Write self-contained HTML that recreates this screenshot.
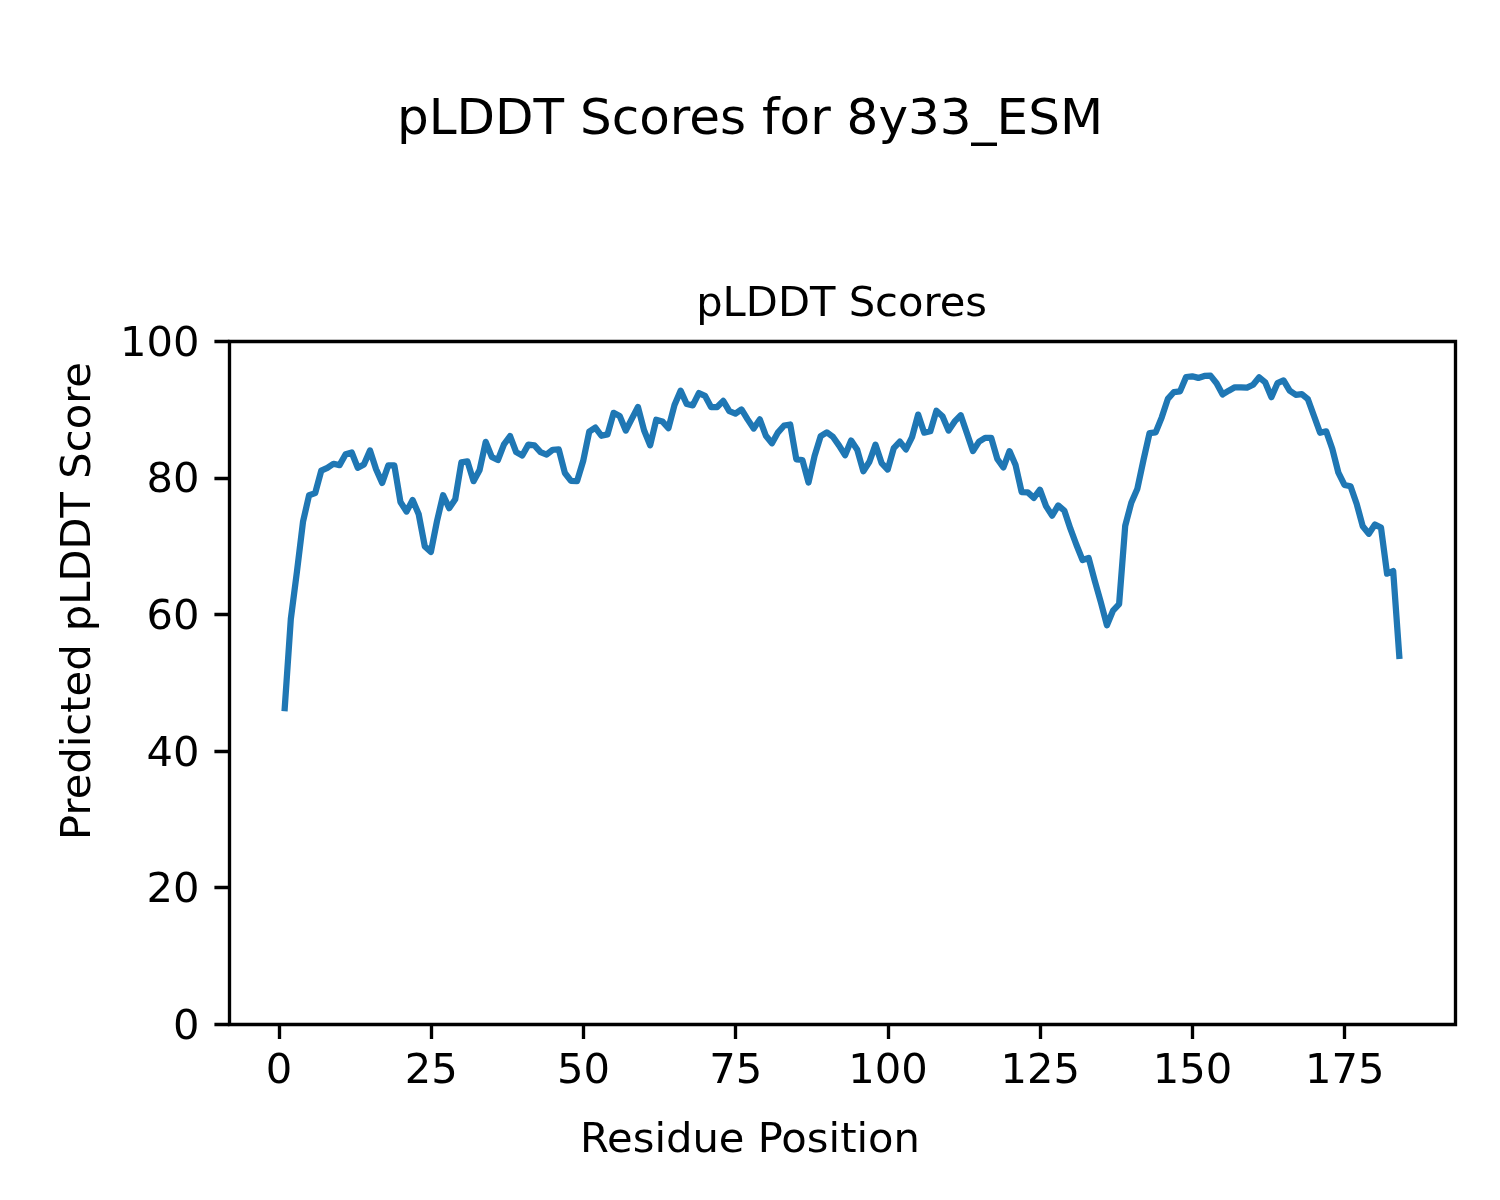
<!DOCTYPE html>
<html><head><meta charset="utf-8"><title>pLDDT Scores for 8y33_ESM</title>
<style>html,body{margin:0;padding:0;background:#fff;width:1500px;height:1200px;overflow:hidden}svg{display:block;will-change:transform}</style>
</head><body>
<svg width="1500" height="1200" viewBox="0 0 1500 1200">
<rect x="0" y="0" width="1500" height="1200" fill="#ffffff"/>
<defs><clipPath id="c"><rect x="229.0" y="341.0" width="1226.0" height="683.0"/></clipPath></defs>
<polyline clip-path="url(#c)" points="284.73,708.06 290.82,619.00 296.91,571.87 303.00,521.81 309.09,495.17 315.18,493.12 321.27,470.59 327.36,467.85 333.45,463.76 339.54,465.12 345.63,454.19 351.72,452.49 357.81,467.85 363.90,464.44 369.99,450.44 376.08,469.22 382.17,482.88 388.26,465.46 394.35,465.46 400.45,502.00 406.54,511.57 412.63,499.95 418.72,514.30 424.81,546.40 430.90,551.86 436.99,521.13 443.08,495.17 449.17,508.15 455.26,499.27 461.35,462.39 467.44,461.37 473.53,481.17 479.62,469.90 485.71,441.90 491.80,456.93 497.89,460.00 503.98,444.29 510.07,436.09 516.16,452.14 522.25,455.56 528.34,444.63 534.43,445.31 540.52,452.14 546.62,454.54 552.71,449.75 558.80,449.41 564.89,472.98 570.98,480.83 577.07,481.17 583.16,461.02 589.25,431.65 595.34,427.56 601.43,435.75 607.52,434.39 613.61,412.87 619.70,415.95 625.79,430.63 631.88,418.68 637.97,407.07 644.06,430.29 650.15,445.31 656.24,419.70 662.33,421.41 668.42,428.24 674.51,405.02 680.60,390.67 686.69,403.99 692.78,405.36 698.88,393.07 704.97,395.80 711.06,407.07 717.15,407.07 723.24,400.92 729.33,411.16 735.42,413.56 741.51,409.46 747.60,419.36 753.69,428.58 759.78,419.36 765.87,435.75 771.96,443.27 778.05,432.34 784.14,425.51 790.23,424.48 796.32,459.32 802.41,460.00 808.50,482.54 814.59,455.90 820.68,436.09 826.77,432.34 832.86,436.78 838.95,445.31 845.05,455.22 851.14,440.53 857.23,449.75 863.32,471.27 869.41,461.71 875.50,444.63 881.59,463.07 887.68,469.56 893.77,448.05 899.86,441.56 905.95,449.41 912.04,437.12 918.13,414.58 924.22,432.68 930.31,431.31 936.40,410.82 942.49,416.29 948.58,430.63 954.67,421.41 960.76,415.26 966.85,433.02 972.94,451.12 979.03,441.56 985.12,437.80 991.22,437.80 997.31,458.97 1003.40,467.51 1009.49,451.12 1015.58,465.12 1021.67,492.10 1027.76,492.44 1033.85,497.91 1039.94,489.71 1046.03,506.10 1052.12,515.66 1058.21,505.42 1064.30,510.54 1070.39,528.64 1076.48,545.03 1082.57,560.06 1088.66,558.01 1094.75,580.75 1100.84,602.27 1106.93,625.29 1113.02,610.60 1119.11,604.11 1125.20,525.91 1131.29,502.69 1137.38,488.69 1143.48,460.00 1149.57,433.02 1155.66,432.34 1161.75,417.31 1167.84,398.87 1173.93,392.04 1180.02,391.36 1186.11,377.01 1192.20,376.33 1198.29,377.90 1204.38,375.99 1210.47,375.65 1216.56,383.16 1222.65,394.43 1228.74,390.67 1234.83,387.26 1240.92,387.26 1247.01,387.60 1253.10,384.73 1259.19,377.36 1265.28,382.48 1271.37,397.16 1277.46,383.16 1283.55,380.43 1289.65,390.67 1295.74,394.77 1301.83,394.09 1307.92,399.21 1314.01,415.95 1320.10,432.75 1326.19,431.31 1332.28,448.73 1338.37,472.63 1344.46,484.93 1350.55,486.29 1356.64,503.71 1362.73,526.25 1368.82,533.76 1374.91,524.54 1381.00,527.62 1387.09,573.72 1393.18,570.99 1399.27,655.88" fill="none" stroke="#1f77b4" stroke-width="6.250" stroke-linejoin="round" stroke-linecap="square"/>
<path d="M279.5,1024.5V1039.08M431.5,1024.5V1039.08M583.5,1024.5V1039.08M735.5,1024.5V1039.08M888.5,1024.5V1039.08M1040.5,1024.5V1039.08M1192.5,1024.5V1039.08M1344.5,1024.5V1039.08M229.5,1024.5H214.42M229.5,887.5H214.42M229.5,751.5H214.42M229.5,614.5H214.42M229.5,478.5H214.42M229.5,341.5H214.42" stroke="#000" stroke-width="3.333" fill="none"/>
<path d="M229.5,1024.5V341.5M1455.5,1024.5V341.5M229.5,1024.5H1455.5M229.5,341.5H1455.5" stroke="#000" stroke-width="3.333" fill="none" stroke-linecap="square" stroke-linejoin="miter"/>
<g font-family="DejaVu Sans, Liberation Sans, sans-serif" fill="#000">
<text x="278.89" y="1083.3" font-size="41.667" text-anchor="middle">0</text>
<text x="431.15" y="1083.3" font-size="41.667" text-anchor="middle">25</text>
<text x="583.41" y="1083.3" font-size="41.667" text-anchor="middle">50</text>
<text x="735.67" y="1083.3" font-size="41.667" text-anchor="middle">75</text>
<text x="887.93" y="1083.3" font-size="41.667" text-anchor="middle">100</text>
<text x="1040.19" y="1083.3" font-size="41.667" text-anchor="middle">125</text>
<text x="1192.45" y="1083.3" font-size="41.667" text-anchor="middle">150</text>
<text x="1344.71" y="1083.3" font-size="41.667" text-anchor="middle">175</text>
<text x="199.5" y="1038.85" font-size="41.667" text-anchor="end">0</text>
<text x="199.5" y="902.25" font-size="41.667" text-anchor="end">20</text>
<text x="199.5" y="765.65" font-size="41.667" text-anchor="end">40</text>
<text x="199.5" y="629.05" font-size="41.667" text-anchor="end">60</text>
<text x="199.5" y="492.45" font-size="41.667" text-anchor="end">80</text>
<text x="199.5" y="355.85" font-size="41.667" text-anchor="end">100</text>
<text x="841.6" y="315.6" font-size="41.667" text-anchor="middle">pLDDT Scores</text>
<text x="750" y="133.8" font-size="50.000" text-anchor="middle">pLDDT Scores for 8y33_ESM</text>
<text x="750" y="1152" font-size="41.667" text-anchor="middle">Residue Position</text>
<text x="90" y="601" font-size="41.667" text-anchor="middle" transform="rotate(-90 90 601)">Predicted pLDDT Score</text>
</g></svg>
</body></html>
